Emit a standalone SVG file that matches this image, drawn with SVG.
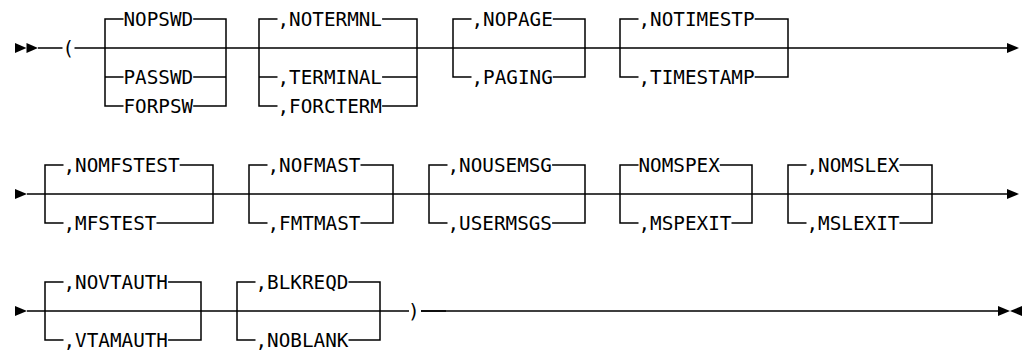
<svg xmlns="http://www.w3.org/2000/svg" width="1024" height="352" viewBox="0 0 1024 352">
<style>
.ln{stroke:#000;stroke-width:1.5;fill:none;stroke-linecap:butt}
.t{font-family:"DejaVu Sans Mono","Liberation Mono",monospace;font-size:19.3px;fill:#000}
.ah{fill:#000;stroke:none}
</style>
<rect width="1024" height="352" fill="#fff"/>
<g id="connectors">
<path class="ln" d="M38,48 H62.5 M74.5,48 H1007"/>
<path class="ln" d="M27,194 H1007"/>
<path class="ln" d="M27,311 H409 M421,311 H998"/>
<path class="ln" d="M421,311 H446" stroke-width="2.2"/>
<polygon class="ah" points="15,43 26.5,48 15,53"/>
<polygon class="ah" points="26.5,43 38,48 26.5,53"/>
<polygon class="ah" points="1007,43 1019,48 1007,53"/>
<polygon class="ah" points="15,189 27,194 15,199"/>
<polygon class="ah" points="1007,189 1019,194 1007,199"/>
<polygon class="ah" points="15,306 27,311 15,316"/>
<polygon class="ah" points="998,306 1010,311 998,316"/>
<polygon class="ah" points="1022,306 1010,311 1022,316"/>
<text class="t" x="62.5" y="55">(</text>
<text class="t" x="408" y="318">)</text>
</g>
<g id="r1b1">
<path class="ln" d="M123.5,19 H105 V106 H123.5 M105,77 H123.5 M193.2,19 H226 V106 H193.2 M193.2,77 H226"/>
<text class="t" x="123.5" y="26">NOPSWD</text>
<text class="t" x="123.5" y="84">PASSWD</text>
<text class="t" x="123.5" y="113">FORPSW</text>
</g>
<g id="r1b2">
<path class="ln" d="M277.5,19 H259 V106 H277.5 M259,77 H277.5 M382.1,19 H417 V106 H382.1 M382.1,77 H417"/>
<text class="t" x="277.5" y="26">,NOTERMNL</text>
<text class="t" x="277.5" y="84">,TERMINAL</text>
<text class="t" x="277.5" y="113">,FORCTERM</text>
</g>
<g id="r1b3">
<path class="ln" d="M471.5,19 H453 V77 H471.5 M552.8,19 H585 V77 H552.8"/>
<text class="t" x="471.5" y="26">,NOPAGE</text>
<text class="t" x="471.5" y="84">,PAGING</text>
</g>
<g id="r1b4">
<path class="ln" d="M638.5,19 H620 V77 H638.5 M754.7,19 H788 V77 H754.7"/>
<text class="t" x="638.5" y="26">,NOTIMESTP</text>
<text class="t" x="638.5" y="84">,TIMESTAMP</text>
</g>
<g id="r2b1">
<path class="ln" d="M63.5,165 H45 V223 H63.5 M179.7,165 H213 V223 H156.5"/>
<text class="t" x="63.5" y="172">,NOMFSTEST</text>
<text class="t" x="63.5" y="230">,MFSTEST</text>
</g>
<g id="r2b2">
<path class="ln" d="M267.5,165 H249 V223 H267.5 M360.5,165 H393 V223 H360.5"/>
<text class="t" x="267.5" y="172">,NOFMAST</text>
<text class="t" x="267.5" y="230">,FMTMAST</text>
</g>
<g id="r2b3">
<path class="ln" d="M447.5,165 H429 V223 H447.5 M552.1,165 H585 V223 H552.1"/>
<text class="t" x="447.5" y="172">,NOUSEMSG</text>
<text class="t" x="447.5" y="230">,USERMSGS</text>
</g>
<g id="r2b4">
<path class="ln" d="M638.5,165 H620 V223 H638.5 M719.8,165 H752 V223 H731.5"/>
<text class="t" x="638.5" y="172">NOMSPEX</text>
<text class="t" x="638.5" y="230">,MSPEXIT</text>
</g>
<g id="r2b5">
<path class="ln" d="M806.5,165 H788 V223 H806.5 M899.5,165 H932 V223 H899.5"/>
<text class="t" x="806.5" y="172">,NOMSLEX</text>
<text class="t" x="806.5" y="230">,MSLEXIT</text>
</g>
<g id="r3b1">
<path class="ln" d="M63.5,282 H45 V340 H63.5 M168.1,282 H201 V340 H168.1"/>
<text class="t" x="63.5" y="289">,NOVTAUTH</text>
<text class="t" x="63.5" y="347">,VTAMAUTH</text>
</g>
<g id="r3b2">
<path class="ln" d="M255.5,282 H237 V340 H255.5 M348.5,282 H380 V340 H348.5"/>
<text class="t" x="255.5" y="289">,BLKREQD</text>
<text class="t" x="255.5" y="347">,NOBLANK</text>
</g>
</svg>
